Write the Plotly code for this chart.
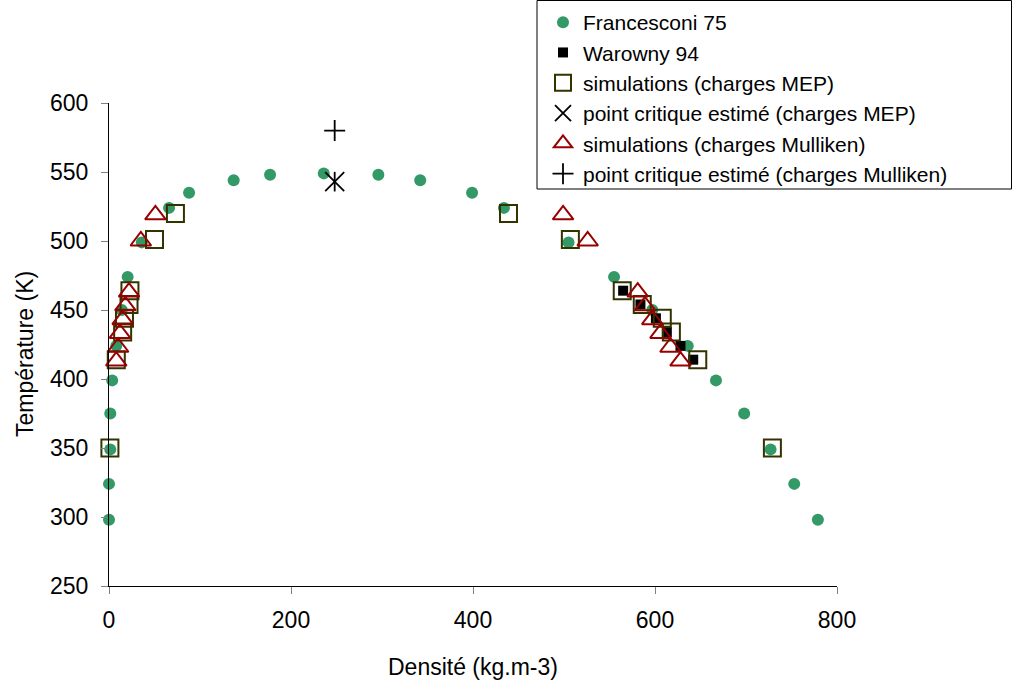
import plotly.graph_objects as go

# Francesconi 75 (coexistence curve)
fr_density = [0, 0, 1.4, 1.4, 3.5, 8, 14, 20.5, 36, 66, 88, 137, 177, 236,
              296, 342, 399, 434, 505, 555, 597, 636, 667, 698, 727, 753, 779]
fr_temp = [298, 324, 349, 375, 399, 424, 450, 474, 499, 524, 535, 544, 548, 549,
           548, 544, 535, 524, 499, 474, 450, 424, 399, 375, 349, 324, 298]

# Warowny 94
wa_density = [565, 584, 601, 613, 628, 642]
wa_temp = [464, 454, 444, 434, 424, 414]

# simulations (charges MEP)
mep_density = [1, 8, 15, 17, 22, 23, 50, 73, 439, 507, 564, 586, 608, 618, 647, 729]
mep_temp = [350, 414, 434, 444, 454, 464, 501, 520, 520, 501, 464, 454, 444, 434, 414, 350]

# point critique estimé (charges MEP)
mep_crit_density = [248]
mep_crit_temp = [543]

# simulations (charges Mulliken)
mul_density = [8, 10, 12, 15, 18, 22, 35, 51, 628, 617, 606, 597, 589, 581, 526, 499]
mul_temp = [413, 423, 433, 443, 453, 463, 500, 519, 413, 423, 433, 443, 453, 463, 500, 519]

# point critique estimé (charges Mulliken)
mul_crit_density = [248]
mul_crit_temp = [580]

FONT = "Liberation Sans, Arial, sans-serif"
W, H = 1012, 684
ML, MR, MT, MB = 109, 175, 103, 98
PW, PH = W - ML - MR, H - MT - MB


def px_x(p):
    return (p - ML) / PW


def px_y(p):
    return (H - MB - p) / PH


fig = go.Figure()
fig.add_trace(go.Scatter(x=fr_density, y=fr_temp, mode="markers", name="Francesconi 75",
                         marker=dict(symbol="circle", size=12, color="#339966", line=dict(width=0)),
                         cliponaxis=False))
fig.add_trace(go.Scatter(x=wa_density, y=wa_temp, mode="markers", name="Warowny 94",
                         marker=dict(symbol="square", size=10, color="#000000", line=dict(width=0)),
                         cliponaxis=False))
fig.add_trace(go.Scatter(x=mep_density, y=mep_temp, mode="markers", name="simulations (charges MEP)",
                         marker=dict(symbol="square-open", size=17, color="#333300", line=dict(width=2, color="#333300")),
                         cliponaxis=False))
fig.add_trace(go.Scatter(x=mep_crit_density, y=mep_crit_temp, mode="markers", name="point critique estimé (charges MEP)",
                         marker=dict(symbol="x-thin-open", size=19, color="#000000", line=dict(width=1.8, color="#000000")),
                         cliponaxis=False))
fig.add_trace(go.Scatter(x=mep_crit_density, y=mep_crit_temp, mode="markers", showlegend=False,
                         marker=dict(symbol="line-ns-open", size=14, color="#000000", line=dict(width=1.8, color="#000000")),
                         cliponaxis=False))
fig.add_trace(go.Scatter(x=mul_density, y=mul_temp, mode="markers", name="simulations (charges Mulliken)",
                         marker=dict(symbol="triangle-up-open", size=18, color="#990000", line=dict(width=2, color="#990000")),
                         cliponaxis=False))
fig.add_trace(go.Scatter(x=mul_crit_density, y=mul_crit_temp, mode="markers", name="point critique estimé (charges Mulliken)",
                         marker=dict(symbol="cross-thin-open", size=15, color="#000000", line=dict(width=1.8, color="#000000")),
                         cliponaxis=False))

# legend frame
fig.add_shape(type="rect", xref="paper", yref="paper",
              x0=px_x(537), x1=px_x(1011.5), y0=px_y(189), y1=px_y(0.5),
              line=dict(color="#000000", width=1), fillcolor="white", layer="above")

# y axis title
fig.add_annotation(text="Température (K)", textangle=-90, showarrow=False,
                   xref="paper", yref="paper", x=px_x(25), y=px_y(354),
                   xanchor="center", yanchor="middle",
                   font=dict(family=FONT, size=23, color="#000000"))

fig.update_layout(
    width=W, height=H,
    margin=dict(l=ML, r=MR, t=MT, b=MB, autoexpand=False),
    paper_bgcolor="white", plot_bgcolor="white",
    font=dict(family=FONT, size=23, color="#000000"),
    showlegend=True,
    legend=dict(xref="container", yref="container", x=543 / W, y=1 - 2 / H,
                xanchor="left", yanchor="top",
                bgcolor="rgba(0,0,0,0)", borderwidth=0, tracegroupgap=0,
                font=dict(family=FONT, size=21, color="#000000"),
                itemclick=False),
)
fig.update_xaxes(range=[0, 800], dtick=200, tick0=0, showgrid=False, zeroline=False,
                 showline=True, linecolor="#000000", linewidth=1.3,
                 ticks="outside", ticklen=7, tickcolor="#808080", tickwidth=1.3,
                 ticklabelstandoff=6,
                 tickfont=dict(family=FONT, size=23),
                 title=dict(text="Densité (kg.m-3)", font=dict(family=FONT, size=23), standoff=27))
fig.update_yaxes(range=[250, 600], dtick=50, tick0=250, showgrid=False, zeroline=False,
                 showline=True, linecolor="#000000", linewidth=1.3,
                 ticks="outside", ticklen=7, tickcolor="#808080", tickwidth=1.3,
                 ticklabelstandoff=8,
                 tickfont=dict(family=FONT, size=23))

fig.write_html("out.html")
